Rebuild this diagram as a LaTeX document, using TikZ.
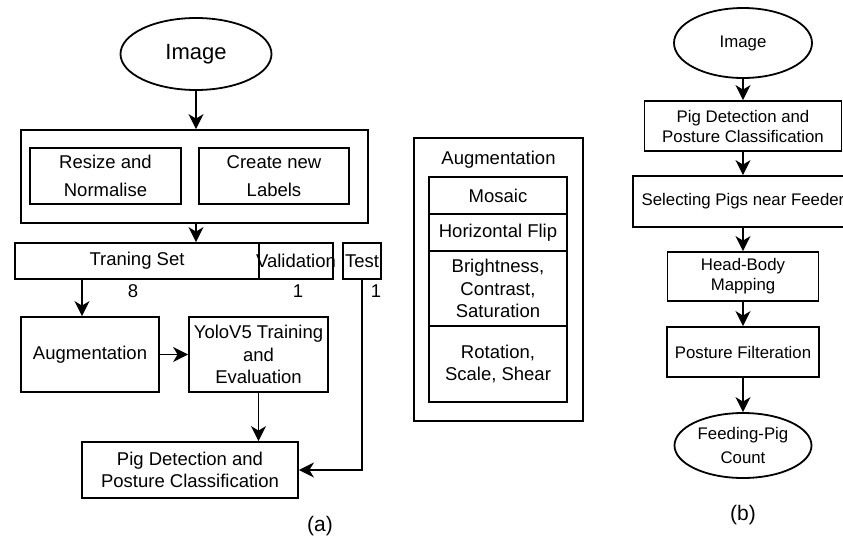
\documentclass[tikz,border=0pt]{standalone}
\usepackage{fontspec}
\setmainfont{Liberation Sans}
\usetikzlibrary{arrows.meta,shapes.geometric,calc}

\begin{document}
\begin{tikzpicture}[
                        x=1pt, y=-1pt,
                        >={Stealth[length=15pt,width=15pt,inset=4.5pt]},
                        line width=1.8pt
                    ]
                    \tikzstyle{boxa}=[draw,rectangle,align=center,inner sep=0pt,font=\fontsize{18.5}{22.5}\selectfont]
                    \tikzstyle{boxb}=[draw,rectangle,align=center,inner sep=0pt,font=\fontsize{16.8}{20}\selectfont]
                    \tikzstyle{ovala}=[draw,ellipse,inner sep=0pt,font=\fontsize{22}{26}\selectfont]
                    \tikzstyle{ovalb}=[draw,ellipse,align=center,inner sep=0pt,font=\fontsize{16.8}{23.5}\selectfont]
                    \tikzstyle{txt}=[inner sep=0pt,font=\fontsize{18.5}{22.5}\selectfont]

                    \useasboundingbox (0,0) rectangle (843,541);

                    % (a) training
                    \node[ovala,minimum width=151pt,minimum height=72pt] (img) at (196,54) {\raisebox{-2pt}{Image}};
                    \node[boxa,minimum width=347pt,minimum height=93pt]  (prep) at (194.5,176.5) {};
                    \node[boxa,minimum width=151pt,minimum height=56pt]  (resize) at (105.5,176) {Resize and\\[5pt]Normalise};
                    \node[boxa,minimum width=150pt,minimum height=56pt]  (labels) at (274,176) {Create new\\[5pt]Labels};
                    \node[boxa,minimum width=244pt,minimum height=36pt]  (train) at (137,261) {Traning Set};
                    \node[boxa,minimum width=74pt,minimum height=36pt]   (valid) at (296,261) {\makebox[0pt]{Validation}};
                    \node[boxa,minimum width=38pt,minimum height=36pt]   (test) at (362,261) {Test};
                    \node[txt] (ntrain) at (133,291) {8};
                    \node[txt] (nvalid) at (298,291) {1};
                    \node[txt] (ntest)  at (376,291) {1};
                    \node[boxa,minimum width=138pt,minimum height=75pt]  (aug) at (90,354.5) {Augmentation};
                    \node[boxa,minimum width=139pt,minimum height=75pt]  (yolo) at (258.5,354.5) {YoloV5 Training\\and\\Evaluation};
                    \node[boxa,minimum width=216pt,minimum height=56pt]  (pig) at (190,470) {Pig Detection and\\Posture Classification};
                    \node[txt,font=\fontsize{21}{25}\selectfont] (capa) at (320,526) {(a)};

                    \draw[->] (img.south) -- (img.south |- prep.north);
                    \draw[->] (img.south |- prep.south) -- (img.south |- train.north);
                    \draw[->] ([xshift=-8pt]aug.north |- train.south) -- ([xshift=-8pt]aug.north);
                    \draw[->] (aug) -- (yolo);
                    \draw[->] (yolo.south) -- (yolo.south |- pig.north);
                    \draw[->] (test.south) |- (pig.east);

                    % augmentation list
                    \node[boxa,minimum width=169pt,minimum height=283pt] (augbox) at (498.5,279.5) {};
                    \node[txt] (augtitle) at (498.5,160) {Augmentation};
                    \node[boxa,minimum width=138pt,minimum height=37pt] (mosaic) at (498,195.5) {Mosaic};
                    \node[boxa,minimum width=138pt,minimum height=37pt] (flip) at (498,232.5) {Horizontal Flip};
                    \node[boxa,minimum width=138pt,minimum height=75pt] (colour) at (498,288.5) {Brightness,\\Contrast,\\Saturation};
                    \node[boxa,minimum width=138pt,minimum height=76pt] (geom) at (498,364) {Rotation,\\Scale, Shear};

                    % (b) counting
                    \node[ovalb,minimum width=138pt,minimum height=70pt] (img2) at (743,43) {\raisebox{-2pt}{Image}};
                    \node[boxb,minimum width=197pt,minimum height=50pt] (det2) at (743,126) {Pig Detection and\\Posture Classification};
                    \node[boxb,minimum width=220pt,minimum height=51pt] (sel) at (743,201.5) {Selecting Pigs near Feeder};
                    \node[boxb,minimum width=151pt,minimum height=49pt] (head) at (743,276.5) {Head-Body\\Mapping};
                    \node[boxb,minimum width=152pt,minimum height=50pt] (filt) at (743,352) {Posture Filteration};
                    \node[ovalb,minimum width=137pt,minimum height=65pt] (count) at (743,445.5) {Feeding-Pig\\Count};
                    \node[txt,font=\fontsize{21}{25}\selectfont] (capb) at (743,515) {(b)};

                    \foreach \a/\b in {img2/det2,det2/sel,sel/head,head/filt,filt/count}
                        \draw[->] (\a) -- (\b);
                \end{tikzpicture}
\end{document}
